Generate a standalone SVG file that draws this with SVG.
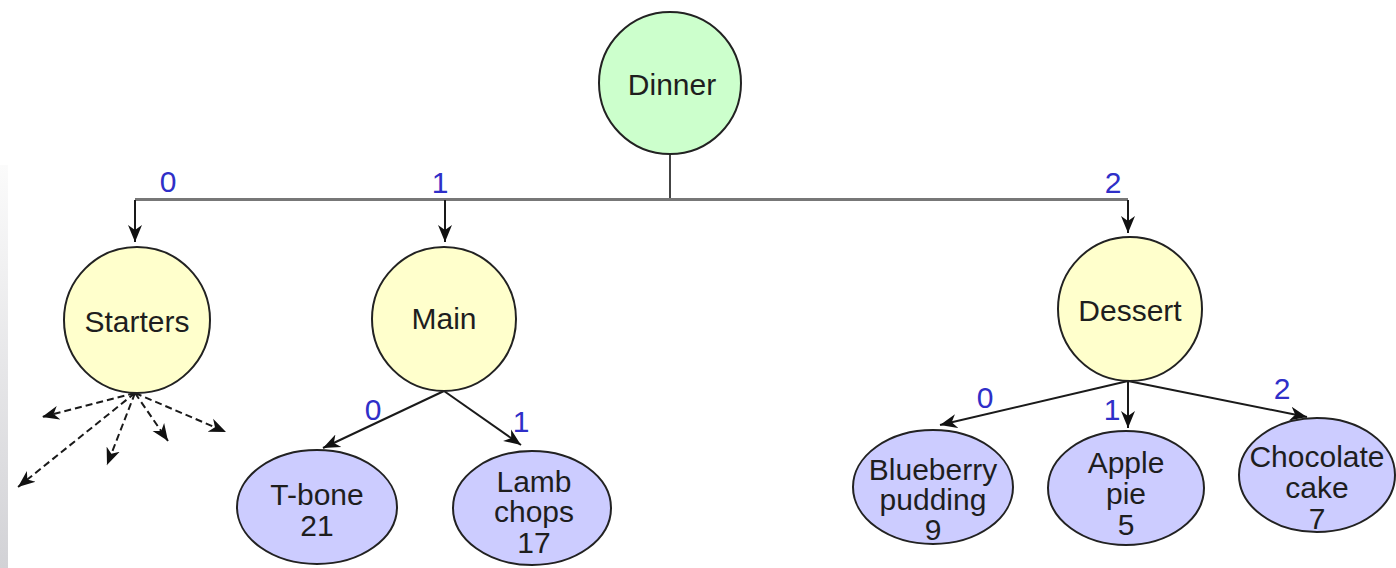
<svg xmlns="http://www.w3.org/2000/svg" width="1396" height="568" viewBox="0 0 1396 568">
  <style>
    .t { font-family: "Liberation Sans", Arial, sans-serif; font-size: 30px; fill: #1e1e1e; text-anchor: middle; }
    .lbl { font-family: "Liberation Sans", Arial, sans-serif; font-size: 30px; fill: #2f2fc8; text-anchor: middle; }
    .root { fill: #ccffcc; stroke: #222; stroke-width: 2; }
    .cat { fill: #ffffcc; stroke: #222; stroke-width: 2; }
    .leaf { fill: #ccccff; stroke: #222; stroke-width: 2; }
    .edge { fill: none; stroke: #1a1a1a; stroke-width: 2; marker-end: url(#arrow); }
    .dash { fill: none; stroke: #1a1a1a; stroke-width: 2; stroke-dasharray: 7 4; marker-end: url(#arrow); }
    .bar { fill: none; stroke: #777; stroke-width: 3; }
    .stem { fill: none; stroke: #444; stroke-width: 2; }
  </style>
  <defs>
    <marker id="arrow" markerUnits="userSpaceOnUse" markerWidth="18" markerHeight="16" refX="17" refY="8" orient="auto">
      <path d="M0,1 L17,8 L0,15 L5,8 z" fill="#111"/>
    </marker>
    <linearGradient id="edgeFade" x1="0" y1="0" x2="0" y2="1">
      <stop offset="0" stop-color="#fbfbfb"/>
      <stop offset="1" stop-color="#d2d2d6"/>
    </linearGradient>
  </defs>

  <rect width="1396" height="568" fill="#fff"/>
  <rect x="0" y="165" width="8" height="403" fill="url(#edgeFade)"/>

  <!-- connectors -->
  <g id="connectors">
    <line class="stem" x1="670" y1="154" x2="670" y2="199"/>
    <polyline class="bar" points="135,199.5 1128,199.5"/>
    <line class="edge" x1="135" y1="200" x2="135" y2="242"/>
    <line class="edge" x1="445" y1="200" x2="445" y2="242"/>
    <line class="edge" x1="1128" y1="200" x2="1128" y2="233"/>

    <line class="dash" x1="135" y1="393" x2="42" y2="417"/>
    <line class="dash" x1="135" y1="393" x2="18" y2="487"/>
    <line class="dash" x1="135" y1="393" x2="107" y2="465"/>
    <line class="dash" x1="135" y1="393" x2="168" y2="441"/>
    <line class="dash" x1="135" y1="393" x2="226" y2="432"/>

    <line class="edge" x1="444" y1="391" x2="323" y2="448"/>
    <line class="edge" x1="444" y1="391" x2="521" y2="445"/>

    <line class="edge" x1="1128" y1="381" x2="940" y2="425"/>
    <line class="edge" x1="1128" y1="381" x2="1128" y2="428"/>
    <line class="edge" x1="1128" y1="381" x2="1307" y2="417"/>

    <text class="lbl" x="168" y="192">0</text>
    <text class="lbl" x="440" y="193">1</text>
    <text class="lbl" x="1113" y="193">2</text>
    <text class="lbl" x="373" y="420">0</text>
    <text class="lbl" x="521" y="432">1</text>
    <text class="lbl" x="985" y="408">0</text>
    <text class="lbl" x="1112" y="420">1</text>
    <text class="lbl" x="1282" y="399">2</text>
  </g>

  <g id="dinner">
    <circle class="root" cx="670" cy="83" r="71"/>
    <text class="t" x="672" y="95">Dinner</text>
  </g>

  <g id="starters">
    <circle class="cat" cx="137" cy="320" r="73"/>
    <text class="t" x="137" y="332">Starters</text>
  </g>

  <g id="main">
    <circle class="cat" cx="444" cy="319" r="72"/>
    <text class="t" x="444" y="329">Main</text>
  </g>

  <g id="dessert">
    <circle class="cat" cx="1130" cy="309" r="72"/>
    <text class="t" x="1130" y="321">Dessert</text>
  </g>

  <g id="t-bone">
    <ellipse class="leaf" cx="317" cy="507" rx="80" ry="57"/>
    <text class="t" x="317" y="505">T-bone</text>
    <text class="t" x="317" y="536">21</text>
  </g>

  <g id="lamb-chops">
    <ellipse class="leaf" cx="532" cy="508" rx="79" ry="57"/>
    <text class="t" x="534" y="492">Lamb</text>
    <text class="t" x="534" y="522">chops</text>
    <text class="t" x="534" y="553">17</text>
  </g>

  <g id="blueberry-pudding">
    <ellipse class="leaf" cx="933" cy="487" rx="80" ry="57"/>
    <text class="t" x="933" y="480">Blueberry</text>
    <text class="t" x="933" y="510">pudding</text>
    <text class="t" x="933" y="540">9</text>
  </g>

  <g id="apple-pie">
    <ellipse class="leaf" cx="1126" cy="488" rx="78" ry="57"/>
    <text class="t" x="1126" y="473">Apple</text>
    <text class="t" x="1126" y="504">pie</text>
    <text class="t" x="1126" y="535">5</text>
  </g>

  <g id="chocolate-cake">
    <ellipse class="leaf" cx="1317" cy="475" rx="78" ry="57"/>
    <text class="t" x="1317" y="467">Chocolate</text>
    <text class="t" x="1317" y="498">cake</text>
    <text class="t" x="1317" y="529">7</text>
  </g>
</svg>
